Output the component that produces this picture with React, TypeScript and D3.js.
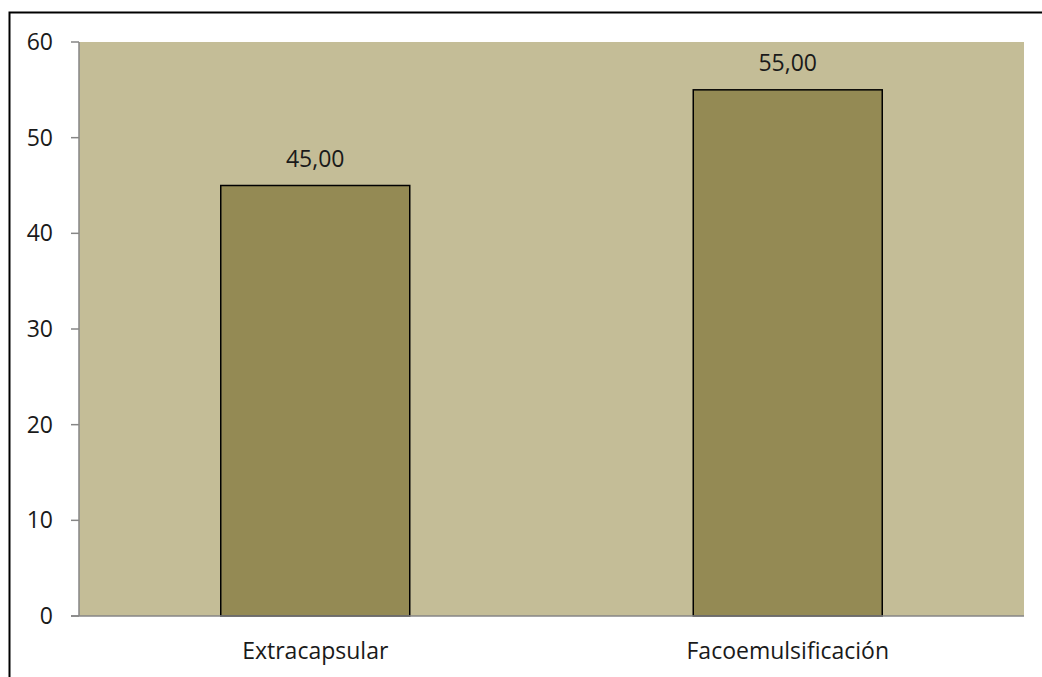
import React from "react";
import * as d3 from "d3";

const categories = ["Extracapsular", "Facoemulsificación"];
const values = [45.0, 55.0];
const yTicks = [0, 10, 20, 30, 40, 50, 60];

const W = 1042;
const H = 677;
const plot = { left: 79, right: 1024, top: 42, bottom: 616 };
const FONT = "'Open Sans', 'DejaVu Sans', sans-serif";
const fmt = (v: number) => v.toFixed(2).replace(".", ",");

export default function App() {
  const x = d3
    .scaleBand<string>()
    .domain(categories)
    .range([plot.left, plot.right])
    .paddingInner(0.6)
    .paddingOuter(0.3);
  const y = d3.scaleLinear().domain([0, 60]).range([plot.bottom, plot.top]);

  return (
    <svg
      width={W}
      height={H}
      style={{ position: "absolute", left: 0, top: 0, background: "#fff" }}
    >
      <rect x={9.5} y={12.5} width={1100} height={720} fill="#fff" stroke="#000" strokeWidth={2} />
      <rect
        x={plot.left}
        y={plot.top}
        width={plot.right - plot.left}
        height={plot.bottom - plot.top}
        fill="#C4BD97"
      />
      {categories.map((c, i) => (
        <g key={c}>
          <rect
            x={x(c)!}
            y={y(values[i])}
            width={x.bandwidth()}
            height={y(0) - y(values[i])}
            fill="#948A54"
            stroke="#000"
            strokeWidth={1.5}
          />
          <text
            x={x(c)! + x.bandwidth() / 2}
            y={y(values[i]) - 19}
            textAnchor="middle"
            fontFamily={FONT}
            fontSize={23}
            fill="#1a1a1a"
          >
            {fmt(values[i])}
          </text>
          <text
            x={x(c)! + x.bandwidth() / 2}
            y={658.5}
            textAnchor="middle"
            fontFamily={FONT}
            fontSize={23}
            fill="#1a1a1a"
          >
            {c}
          </text>
        </g>
      ))}
      {/* value axis */}
      <line x1={plot.left} x2={plot.left} y1={plot.top} y2={plot.bottom} stroke="#868686" strokeWidth={1.5} />
      {yTicks.map((t) => (
        <g key={t}>
          <line x1={71} x2={plot.left} y1={y(t)} y2={y(t)} stroke="#868686" strokeWidth={1.5} />
          <text
            x={53}
            y={y(t)}
            dy="0.35em"
            textAnchor="end"
            fontFamily={FONT}
            fontSize={23}
            fill="#1a1a1a"
          >
            {t}
          </text>
        </g>
      ))}
      {/* category axis */}
      <line x1={71} x2={plot.right} y1={plot.bottom} y2={plot.bottom} stroke="#868686" strokeWidth={1.5} />
    </svg>
  );
}
